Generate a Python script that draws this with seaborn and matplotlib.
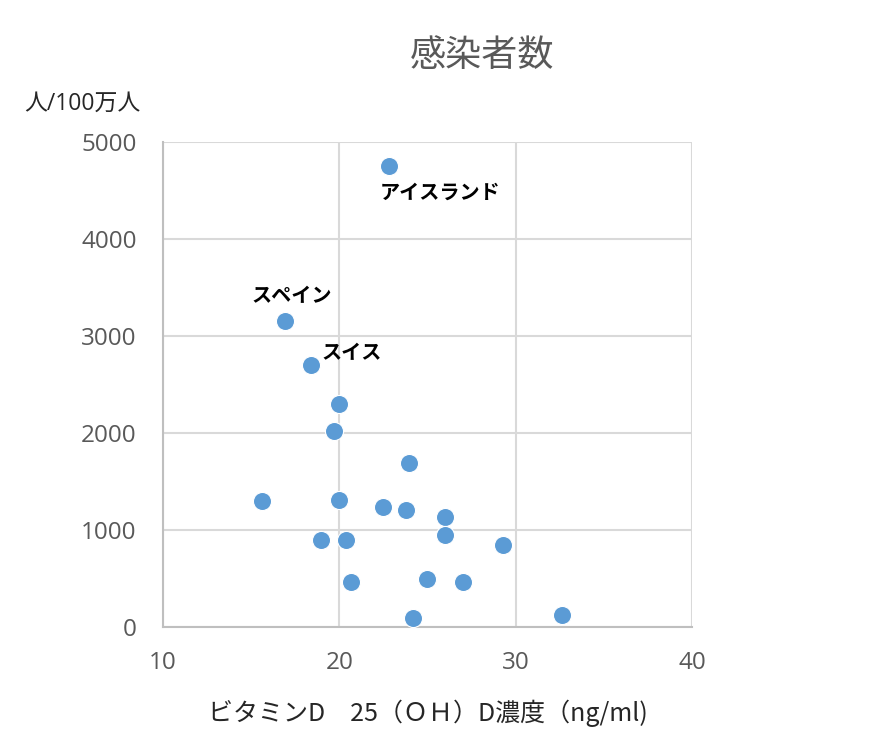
import matplotlib
matplotlib.use("Agg")
import matplotlib.pyplot as plt
import seaborn as sns
import pandas as pd

vitd = [22.8, 16.9, 18.4, 20.0, 19.7, 23.95, 15.6, 20.0, 22.5, 23.8,
        26.0, 26.0, 29.3, 18.95, 20.4, 20.65, 25.0, 27.0, 24.2, 32.6]
cases = [4750, 3150, 2700, 2300, 2020, 1690, 1300, 1310, 1235, 1205,
         1135, 945, 845, 895, 895, 465, 495, 460, 95, 125]
labels = ["アイスランド", "スペイン", "スイス"] + [""] * 17

xticks = [10, 20, 30, 40]
yticks = [0, 1000, 2000, 3000, 4000, 5000]

sns.set_theme(style="white")
plt.rcParams['font.family'] = ['Noto Sans CJK JP', 'DejaVu Sans']
latin = ['Open Sans', 'Noto Sans CJK JP', 'DejaVu Sans']

df = pd.DataFrame({"x": vitd, "y": cases, "label": labels})

fig = plt.figure(figsize=(8.92, 7.44), dpi=100)
ax = fig.add_axes([0.1827, 0.1573, 0.5931, 0.6518])

sns.scatterplot(data=df, x="x", y="y", ax=ax, s=170, color="#5B9BD5",
                edgecolor="white", linewidth=0.8, zorder=3)

ax.set_xlim(10, 40)
ax.set_ylim(0, 5000)
ax.set_xticks(xticks)
ax.set_yticks(yticks)
ax.grid(True, color="#D9D9D9", linewidth=1.5, zorder=0)
for s in ["top", "right"]:
    ax.spines[s].set_visible(False)
for s in ["left", "bottom"]:
    ax.spines[s].set_color("#BFBFBF")
    ax.spines[s].set_linewidth(1.5)
ax.tick_params(axis="both", length=0, labelsize=17.5, labelcolor="#595959")
ax.tick_params(axis="x", pad=17)
ax.tick_params(axis="y", pad=19)
for t in ax.get_xticklabels() + ax.get_yticklabels():
    t.set_family(latin)
ax.set_xlabel("ビタミンD　25（ＯＨ）D濃度（ng/ml)", fontsize=18, color="#262626", labelpad=18)
ax.set_ylabel("")

# point labels
offsets = {"アイスランド": (-0.5, -270, "left"),
           "スペイン": (-1.9, 270, "left"),
           "スイス": (0.6, 130, "left")}
for _, r in df.iterrows():
    if r["label"]:
        dx, dy, ha = offsets[r["label"]]
        ax.text(r["x"] + dx, r["y"] + dy, r["label"], fontsize=14.5, fontweight="bold",
                color="black", ha=ha, va="center", zorder=4)

fig.text(0.54, 0.925, "感染者数", fontsize=26, color="#595959", ha="center", va="center")
fig.text(0.027, 0.861, "人/100万人", fontsize=16.5, color="#262626", ha="left", va="center",
         family=latin)

fig.savefig("out.png", dpi=100, facecolor="white")
